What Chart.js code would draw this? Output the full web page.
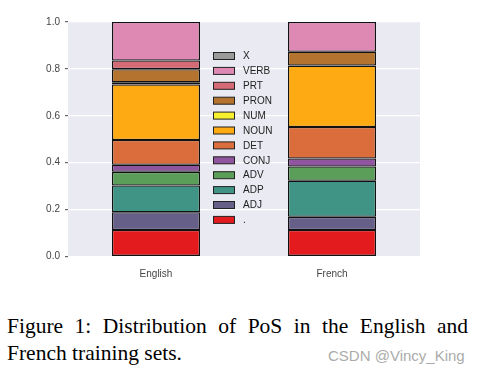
<!DOCTYPE html>
<html>
<head>
<meta charset="utf-8">
<script src="https://cdn.jsdelivr.net/npm/chart.js@4/dist/chart.umd.min.js"></script>
<style>
  body { margin: 0; background: #fff; }
  #wrap { position: relative; width: 479px; height: 374px; overflow: hidden; }
  #chart { position: absolute; left: 0; top: 0; }
  .cap { position: absolute; left: 7px; width: 461px; font-family: "Liberation Serif", "Times New Roman", serif;
         font-size: 21.5px; line-height: 27px; color: #000; white-space: nowrap; }
  #cap1 { top: 313px; text-align: justify; text-align-last: justify; white-space: normal; }
  #cap2 { top: 340px; }
  #mark { position: absolute; left: 328px; top: 348px; font-family: "Liberation Sans", Arial, sans-serif;
          font-size: 15px; line-height: 15px; color: #ababab; }
</style>
</head>
<body>
<div id="wrap">
  <canvas id="chart" width="479" height="285"></canvas>
  <div class="cap" id="cap1">Figure 1: Distribution of PoS in the English and</div>
  <div class="cap" id="cap2">French training sets.</div>
  <div id="mark">CSDN @Vincy_King</div>
</div>
<script>
"use strict";

// categories
const languages = ['English', 'French'];
// PoS tags, bottom of the stack first
const tags = ['.', 'ADJ', 'ADP', 'ADV', 'CONJ', 'DET', 'NOUN', 'NUM', 'PRON', 'PRT', 'VERB', 'X'];
// share of each tag
const english = [0.113, 0.076, 0.114, 0.058, 0.030, 0.106, 0.237, 0.009, 0.056, 0.037, 0.164, 0.000];
const french  = [0.113, 0.056, 0.154, 0.061, 0.034, 0.134, 0.262, 0.000, 0.059, 0.000, 0.127, 0.000];
const yTicks = [0, 0.2, 0.4, 0.6, 0.8, 1.0];

const colors = ['#E41B1E', '#666089', '#409486', '#5B9E59', '#8F559F', '#DB6D3C',
                '#FEAB13', '#F7F02F', '#B4732E', '#D46B77', '#DE88B4', '#9A9A9A'];

const plotBg = {
  id: 'plotBg',
  beforeDraw(chart) {
    const {ctx, chartArea: a} = chart;
    ctx.save();
    ctx.fillStyle = '#EAEAF2';
    ctx.fillRect(a.left, a.top, a.right - a.left, a.bottom - a.top);
    ctx.restore();
  },
};

// legend sits inside the plot, between the two bars, top entry = last dataset
const innerLegend = {
  id: 'innerLegend',
  afterDraw(chart) {
    const ctx = chart.ctx;
    const sets = chart.data.datasets;
    ctx.save();
    ctx.font = '10px "Liberation Sans", Arial, sans-serif';
    ctx.textBaseline = 'middle';
    for (let k = 0; k < sets.length; k++) {
      const ds = sets[sets.length - 1 - k];
      const y = 56 + k * 14.9;
      ctx.fillStyle = ds.backgroundColor;
      ctx.fillRect(213.5, y - 3.5, 21, 7);
      ctx.strokeStyle = '#222';
      ctx.lineWidth = 1;
      ctx.strokeRect(213.5, y - 3.5, 21, 7);
      ctx.fillStyle = '#222';
      ctx.fillText(ds.label, 243, y + 0.5);
    }
    ctx.restore();
  },
};

new Chart(document.getElementById('chart').getContext('2d'), {
  type: 'bar',
  data: {
    labels: languages,
    datasets: tags.map((t, i) => ({
      label: t,
      data: [english[i], french[i]],
      backgroundColor: colors[i],
      borderColor: '#111',
      borderWidth: c => (c.raw ? 1.3 : 0),
      borderSkipped: false,
      barPercentage: 0.5,
      categoryPercentage: 1.0,
    })),
  },
  options: {
    responsive: false,
    animation: false,
    layout: {padding: {top: 22, right: 59, left: 0, bottom: 0}},
    plugins: {legend: {display: false}, tooltip: {enabled: false}},
    scales: {
      x: {
        stacked: true,
        grid: {display: false},
        border: {display: false},
        ticks: {color: '#444', font: {family: 'Liberation Sans', size: 10}, padding: 4},
        afterFit(s) { s.height = 28.5; },
      },
      y: {
        stacked: true,
        min: 0,
        max: 1,
        afterBuildTicks(s) { s.ticks = yTicks.map(v => ({value: v})); },
        grid: {color: '#fff', lineWidth: 1.2, tickLength: 3, tickColor: '#666'},
        border: {display: false},
        ticks: {
          color: '#444',
          font: {family: 'Liberation Sans', size: 10},
          padding: 5,
          callback: v => v.toFixed(1),
        },
        afterFit(s) { s.width = 68; },
      },
    },
  },
  plugins: [plotBg, innerLegend],
});
</script>
</body>
</html>
